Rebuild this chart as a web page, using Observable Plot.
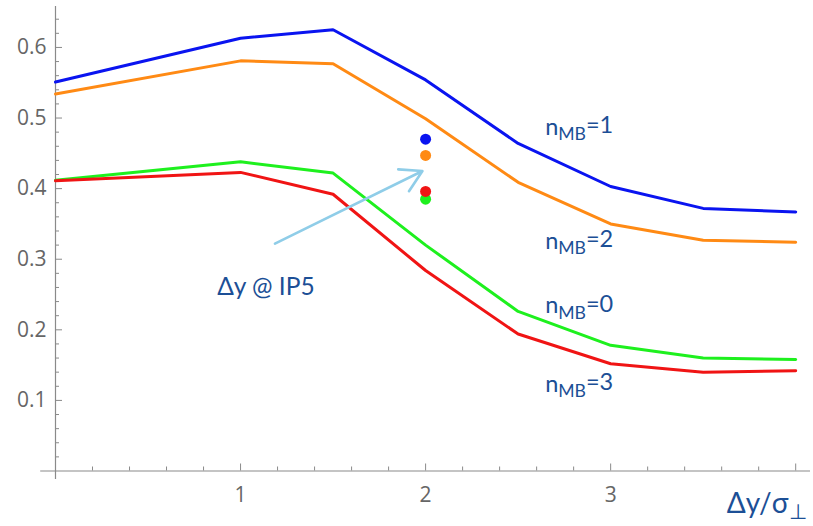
<!DOCTYPE html>
<html><head><meta charset="utf-8">
<script src="https://cdn.jsdelivr.net/npm/d3@7"></script>
<script src="https://cdn.jsdelivr.net/npm/@observablehq/plot@0.6"></script>
<style>body{margin:0;background:#fff}</style>
</head><body><div id="chart"></div>
<script>
const xs = [0, 1, 1.5, 2, 2.5, 3, 3.5, 4];
const nMB1 = [0.551, 0.613, 0.625, 0.554, 0.464, 0.403, 0.372, 0.367];
const nMB2 = [0.534, 0.581, 0.577, 0.499, 0.409, 0.350, 0.327, 0.324];
const nMB0 = [0.412, 0.438, 0.422, 0.320, 0.226, 0.178, 0.160, 0.158];
const nMB3 = [0.411, 0.423, 0.392, 0.284, 0.194, 0.152, 0.140, 0.142];
const seriesNames = ["nMB=1", "nMB=2", "nMB=0", "nMB=3"];
const seriesColors = ["#0a14f0", "#ff8a14", "#1ef01e", "#f01414"];
const ip5X = 2;
const ip5Values = [0.470, 0.447, 0.385, 0.396];
const labelX = [2.83, 2.83, 2.83, 2.83];
const labelY = [0.487, 0.325, 0.234, 0.123];
const arrowFrom = [1.186, 0.322];
const arrowTo = [1.983, 0.425];
const ip5Label = "Δy @ IP5";
const ip5LabelPos = [1.137, 0.260];
const xMajor = [1, 2, 3, 4];
const xLabels = [1, 2, 3];
const yMajor = [0.1, 0.2, 0.3, 0.4, 0.5, 0.6];
const xLabelText = "Δy/σ_⊥";

const allSeries = [nMB1, nMB2, nMB0, nMB3];
const lineData = allSeries.flatMap((vals, i) => vals.map((v, j) => ({x: xs[j], y: v, s: seriesNames[i]})));
const dotData = ip5Values.map((v, i) => ({x: ip5X, y: v, s: seriesNames[i]}));
const labData = seriesNames.map((n, i) => ({x: labelX[i], y: labelY[i], t: n}));
const xMinor = d3.range(1, 21).map(i => +(i * 0.2).toFixed(2)).filter(v => !xMajor.includes(v));
const yMinor = d3.range(1, 33).map(i => +(i * 0.02).toFixed(2)).filter(v => !yMajor.some(m => Math.abs(m - v) < 1e-9));

const axisColor = "#8a8a8a";
const chart = Plot.plot({
  width: 813, height: 526,
  marginLeft: 55, marginRight: 3, marginTop: 6, marginBottom: 55.5,
  x: {domain: [0, 4.08], axis: null},
  y: {domain: [0, 0.658], axis: null},
  color: {domain: seriesNames, range: seriesColors},
  style: {fontFamily: "Lato, 'Open Sans', sans-serif", background: "#fff"},
  marks: [
    Plot.ruleY([0], {x1: -0.08, x2: 4.08, stroke: axisColor, strokeWidth: 1.2}),
    Plot.ruleX([0], {y1: -0.012, y2: 0.658, stroke: axisColor, strokeWidth: 1.2}),
    Plot.axisX({ticks: xMajor, tickSize: -7, text: null, stroke: axisColor}),
    Plot.axisX({ticks: xMinor, tickSize: -4, text: null, stroke: axisColor}),
    Plot.axisX({ticks: xLabels, tickSize: 0, tickPadding: 16, fontSize: 21, fill: "#666", tickFormat: d => String(d), fontFamily: "'Open Sans', sans-serif"}),
    Plot.axisY({ticks: yMajor, tickSize: -7, text: null, stroke: axisColor}),
    Plot.axisY({ticks: yMinor, tickSize: -4, text: null, stroke: axisColor}),
    Plot.axisY({ticks: yMajor, tickSize: 0, tickPadding: 9, fontSize: 21, fill: "#666", tickFormat: d => d.toFixed(1), fontFamily: "'Open Sans', sans-serif"}),
    Plot.line(lineData, {x: "x", y: "y", z: "s", stroke: "s", strokeWidth: 3, strokeLinejoin: "miter"}),
    Plot.dot(dotData, {x: "x", y: "y", fill: "s", r: 5.5}),
    Plot.arrow([{x1: arrowFrom[0], y1: arrowFrom[1], x2: arrowTo[0], y2: arrowTo[1]}], {x1: "x1", y1: "y1", x2: "x2", y2: "y2", stroke: "#8fcde8", strokeWidth: 2.6, headLength: 14}),
    Plot.text(labData, {x: "x", y: "y", text: "t", fill: "#1c4f96", fontSize: 23.5, className: "sub"}),
    Plot.text([ip5Label], {x: ip5LabelPos[0], y: ip5LabelPos[1], fill: "#1c4f96", fontSize: 24.5}),
    Plot.text([xLabelText], {frameAnchor: "bottom-right", dx: -4, dy: 42, fill: "#1c4f96", fontSize: 28, className: "sub"})
  ]
});
document.getElementById("chart").appendChild(chart);

// subscripts: "nMB=1" -> n + sub(MB) + "=1"; "Δy/σ_⊥" -> Δy/σ + sub(⊥)
chart.querySelectorAll("g.sub text").forEach(t => {
  const s = t.textContent;
  let parts;
  if (s.startsWith("nMB")) parts = ["n", "MB", s.slice(3)];
  else if (s.includes("_")) { const [a, b] = s.split("_"); parts = [a, b, ""]; }
  else return;
  t.textContent = "";
  const ns = "http://www.w3.org/2000/svg";
  const a = document.createElementNS(ns, "tspan"); a.textContent = parts[0];
  const b = document.createElementNS(ns, "tspan"); b.textContent = parts[1];
  b.setAttribute("dy", "0.3em"); b.setAttribute("font-size", "0.75em");
  t.appendChild(a); t.appendChild(b);
  if (parts[2]) {
    const c = document.createElementNS(ns, "tspan"); c.textContent = parts[2];
    c.setAttribute("dy", "-0.3em");
    t.appendChild(c);
  }
});
</script>
</body></html>
